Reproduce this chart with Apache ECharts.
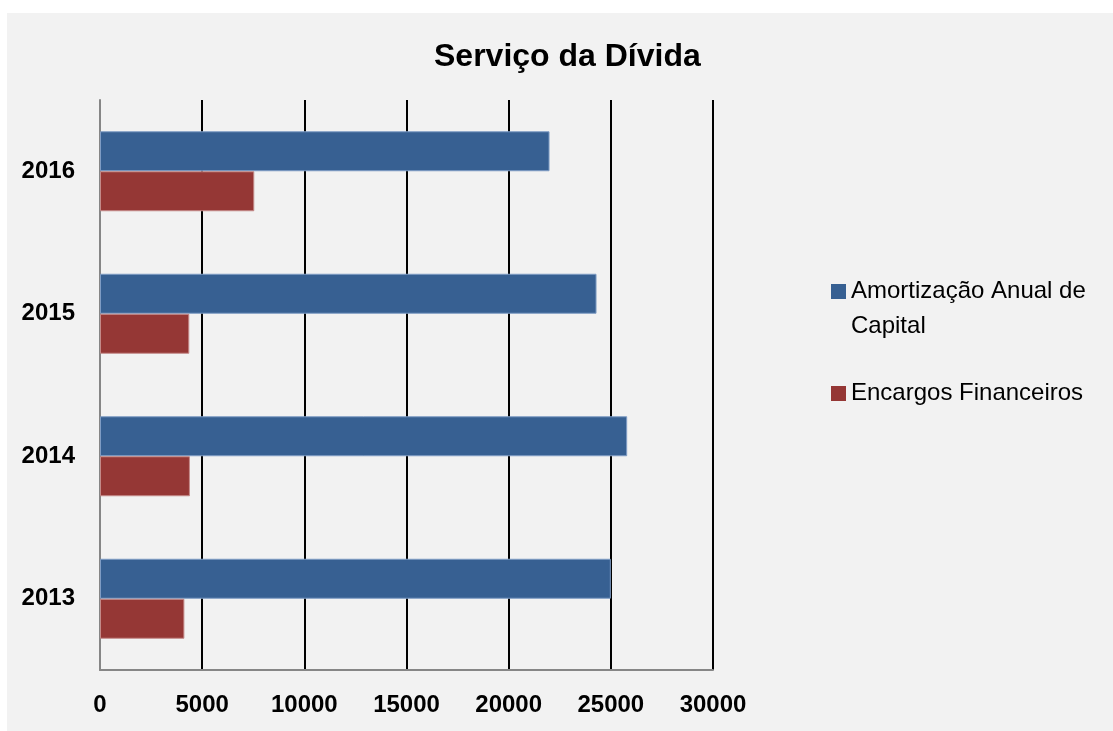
<!DOCTYPE html>
<html>
<head>
<meta charset="utf-8">
<script src="https://cdn.jsdelivr.net/npm/echarts@6/dist/echarts.min.js"></script>
<style>
  html, body { margin: 0; padding: 0; background: #ffffff; }
  #chart { position: absolute; left: 7px; top: 13px; width: 1106px; height: 718px; background: #f2f2f2; }
</style>
</head>
<body>
<div id="chart"></div>
<script>
const years = ['2013', '2014', '2015', '2016'];
const amortizacao = [25000, 25800, 24300, 22000];
const encargos = [4130, 4400, 4370, 7550];
const xTicks = [0, 5000, 10000, 15000, 20000, 25000, 30000];

const seriesNames = ['Amortização Anual de Capital', 'Encargos Financeiros'];
const font = '"Liberation Sans", Arial, sans-serif';

document.addEventListener('DOMContentLoaded', function() {
    const chart = echarts.init(document.getElementById('chart'));

    const option = {
        backgroundColor: '#f2f2f2',
        animation: false,
        title: {
            text: 'Serviço da Dívida',
            left: 422,
            top: 23,
            textStyle: { fontFamily: font, fontWeight: 'bold', fontSize: 32, color: '#000' }
        },
        legend: {
            orient: 'vertical',
            left: 819,
            top: 221,
            itemWidth: 15,
            itemHeight: 15,
            itemGap: 32,
            icon: 'rect',
            itemStyle: { borderWidth: 0 },
            textStyle: { fontFamily: font, fontSize: 24, color: '#000', lineHeight: 35 },
            data: seriesNames,
            // blank first line keeps the marker level with the first line of text
            formatter: name => name === seriesNames[0] ? '\nAmortização Anual de\nCapital' : name
        },
        grid: { left: 93, top: 87, width: 613, height: 570, containLabel: false },
        xAxis: {
            type: 'value',
            min: xTicks[0],
            max: xTicks[xTicks.length - 1],
            interval: 5000,
            axisLine: { show: true, lineStyle: { color: '#868686', width: 2 } },
            axisTick: { show: false },
            splitLine: { show: true, lineStyle: { color: '#000', width: 2 } },
            axisLabel: {
                fontFamily: font, fontWeight: 'bold', fontSize: 24, color: '#000', margin: 23,
                formatter: v => String(v)
            }
        },
        yAxis: {
            type: 'category',
            data: years,
            axisLine: { show: true, lineStyle: { color: '#868686', width: 2 } },
            axisTick: { show: false },
            axisLabel: { fontFamily: font, fontWeight: 'bold', fontSize: 24, color: '#000', margin: 25 }
        },
        series: [
            {
                name: seriesNames[0],
                type: 'bar',
                data: amortizacao,
                barWidth: 40,
                barGap: '0%',
                itemStyle: { color: '#376092', borderColor: '#7f9cc4', borderWidth: 1 }
            },
            {
                name: seriesNames[1],
                type: 'bar',
                data: encargos,
                barWidth: 40,
                barGap: '0%',
                itemStyle: { color: '#953735', borderColor: '#c48a89', borderWidth: 1 }
            }
        ]
    };

    chart.setOption(option);
});
</script>
</body>
</html>
